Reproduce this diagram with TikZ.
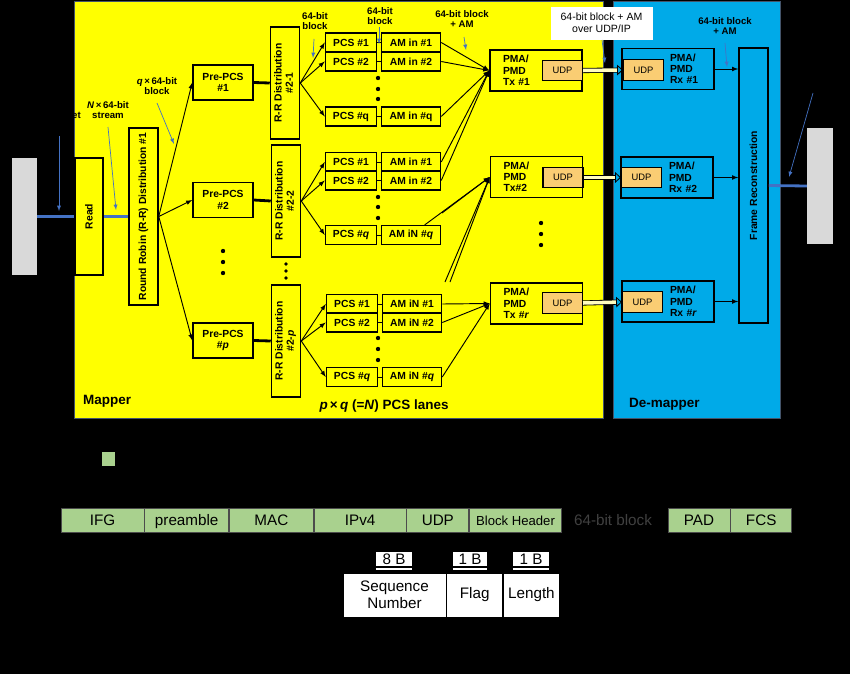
\documentclass[tikz,border=0pt]{standalone}
\usepackage{fontspec}
\setmainfont{Liberation Sans}
\usetikzlibrary{shapes,arrows,arrows.meta,positioning}
\definecolor{mapyellow}{RGB}{255,255,0}
\definecolor{demapblue}{RGB}{0,170,232}
\definecolor{annblue}{RGB}{68,114,196}
\definecolor{udporange}{RGB}{250,205,115}
\definecolor{fieldgreen}{RGB}{169,209,142}
\definecolor{hostgray}{RGB}{217,217,217}
\definecolor{edgegray}{RGB}{68,84,106}
\newcommand{\boxfont}{\fontsize{8.8}{9.6}\selectfont\bfseries}
\newcommand{\fieldfont}{\fontsize{13}{14.5}\selectfont}

\begin{document}
\begin{tikzpicture}[x=0.03cm, y=-0.03cm,
    box/.style={draw, rectangle, line width=1.3pt, inner sep=0pt, font=\boxfont},
    pcs/.style={box, minimum width=1.53cm, minimum height=0.56cm},
    am/.style={box, minimum width=1.77cm, minimum height=0.56cm},
    prepcs/.style={box, align=center, minimum width=1.8cm, minimum height=1.05cm},
    rrbox/.style={box, minimum width=0.87cm, minimum height=3.36cm},
    pma/.style={box, align=left, minimum width=2.76cm, minimum height=1.23cm, inner xsep=0.39cm, text width=1.98cm},
    pmarx/.style={pma, execute at begin node={\leftskip=1.05cm\relax}},
    udp/.style={draw, rectangle, fill=udporange, line width=0.9pt, inner sep=0pt, font=\fontsize{8}{9}\selectfont, minimum width=1.2cm, minimum height=0.62cm},
    note/.style={font=\fontsize{8.2}{9}\selectfont\bfseries, align=center, inner sep=0pt},
    annot/.style={draw=annblue, line width=0.6pt, -latex},
    lane/.style={line width=0.8pt, -latex},
    feed/.style={line width=2.4pt},
    link/.style={draw=annblue, line width=2.4pt},
    udplink/.style={line width=0.7pt, double=yellow!25, double distance=3pt, -{Triangle[open, length=5pt, width=9pt]}},
    dot/.style={circle, fill=black, inner sep=0pt, minimum size=0.13cm},
    field/.style={draw=black!70, fill=fieldgreen, line width=0.6pt, minimum height=0.72cm, inner sep=0pt, text height=9.3pt, text depth=0pt, font=\fieldfont},
    sizebox/.style={fill=white, minimum height=0.42cm, inner sep=0pt, text height=9.3pt, text depth=0pt, font=\fieldfont},
    hdrbox/.style={draw=black, fill=white, line width=0.6pt, minimum height=1.32cm, inner sep=0pt, align=center, font=\fieldfont}]

% background and the two halves
\fill[black] (0,0) rectangle (850,674);
\useasboundingbox (0,0) rectangle (850,674);
\filldraw[fill=mapyellow, draw=edgegray, line width=0.8pt] (74,1) rectangle (603,418);
\filldraw[fill=demapblue, draw=edgegray, line width=0.8pt] (613,1) rectangle (780,418);
\node[fill=hostgray, minimum width=0.75cm, minimum height=3.51cm, inner sep=0pt] (srchost) at (24.5,216.5) {};
\node[fill=hostgray, minimum width=0.78cm, minimum height=3.48cm, inner sep=0pt] (dsthost) at (820,186) {};

% mapper
\node[box, minimum width=0.84cm, minimum height=3.51cm] (read) at (89,216.5) {\rotatebox{90}{Read}};
\node[box, minimum width=0.87cm, minimum height=5.31cm] (rr1) at (143.5,216.5) {\rotatebox{90}{Round Robin (R-R) Distribution \#1}};
\node[prepcs] (pre1) at (223,82.5) {Pre-PCS\\\#1};
\node[prepcs] (pre2) at (223,200) {Pre-PCS\\\#2};
\node[prepcs] (prep) at (223,340.5) {Pre-PCS\\\#\textit{p}};
\node[dot] (pd1) at (223,251) {};
\node[dot] (pd2) at (223,262) {};
\node[dot] (pd3) at (223,273) {};

\node[rrbox] (rr21) at (285,83) {\rotatebox{90}{\begin{tabular}{@{}c@{}}R-R Distribution\\\#2-1\end{tabular}}};
\node[rrbox] (rr22) at (286,201) {\rotatebox{90}{\begin{tabular}{@{}c@{}}R-R Distribution\\\#2-2\end{tabular}}};
\node[rrbox] (rr2p) at (286,341) {\rotatebox{90}{\begin{tabular}{@{}c@{}}R-R Distribution\\\#2-\textit{p}\end{tabular}}};
\node[dot, minimum size=0.11cm] (rd1) at (286,264) {};
\node[dot, minimum size=0.11cm] (rd2) at (286,271) {};
\node[dot, minimum size=0.11cm] (rd3) at (286,278) {};

% PCS lanes
\node[pcs] (pcs11) at (351,42.5) {PCS \#1};
\node[pcs] (pcs12) at (351,61.5) {PCS \#2};
\node[pcs] (pcs1q) at (351,116.5) {PCS \#q};
\node[am] (am11) at (411,42.5) {AM in \#1};
\node[am] (am12) at (411,61.5) {AM in \#2};
\node[am] (am1q) at (411,116.5) {AM in \#q};
\node[pcs] (pcs21) at (351,162) {PCS \#1};
\node[pcs] (pcs22) at (351,180.5) {PCS \#2};
\node[pcs] (pcs2q) at (351,235) {PCS \#\textit{q}};
\node[am] (am21) at (411,162) {AM in \#1};
\node[am] (am22) at (411,180.5) {AM in \#2};
\node[am] (am2q) at (411,235) {AM iN \#\textit{q}};
\node[pcs] (pcs31) at (352,304) {PCS \#1};
\node[pcs] (pcs32) at (352,322.5) {PCS \#2};
\node[pcs] (pcs3q) at (352,377) {PCS \#\textit{q}};
\node[am] (am31) at (412,304) {AM iN \#1};
\node[am] (am32) at (412,322.5) {AM iN \#2};
\node[am] (am3q) at (412,377) {AM iN \#\textit{q}};
\foreach \y in {78,89,99,197,207,218,338,349,360}
  \node[dot] (ld\y) at (378,\y) {};

% transmitters
\node[pma] (tx1) at (536,70.5) {PMA/\\PMD\\Tx \#1};
\node[pma] (tx2) at (536.5,177) {PMA/\\PMD\\Tx\#2};
\node[pma] (txr) at (536.5,303.5) {PMA/\\PMD\\Tx \#\textit{r}};
\node[udp] (udptx1) at (562.5,70.5) {UDP};
\node[udp] (udptx2) at (563,177.5) {UDP};
\node[udp] (udptxr) at (562.5,303) {UDP};
\foreach \y in {223,234,245}
  \node[dot] (td\y) at (541,\y) {};

% de-mapper
\node[pmarx] (rx1) at (668,69) {PMA/\\PMD\\Rx \#1};
\node[pmarx] (rx2) at (667,177.5) {PMA/\\PMD\\Rx \#2};
\node[pmarx] (rxr) at (668,301.5) {PMA/\\PMD\\Rx \#\textit{r}};
\node[udp, anchor=west] (udprx1) at (623,70) {UDP};
\node[udp, anchor=west] (udprx2) at (621,177.5) {UDP};
\node[udp, anchor=west] (udprxr) at (622,302) {UDP};
\node[box, minimum width=0.87cm, minimum height=8.25cm] (frame) at (753.5,185.5) {\rotatebox{90}{Frame Reconstruction}};

% connections
\draw[link] (srchost.east |- read.west) -- (read.west);
\draw[link] (read.east) -- (rr1.west);
\draw[link] (frame.east) -- (dsthost.west);
\foreach \p in {pre1,pre2,prep}
  \draw[lane] (rr1.east) -- (\p.west);
\draw[feed] (pre1.east) -- (rr21.west);
\draw[feed] (pre2.east) -- (rr22.west);
\draw[feed] (prep.east) -- (rr2p.west);
\foreach \g/\r in {1/rr21,2/rr22,3/rr2p} {
  \foreach \k in {1,2,q} {
    \draw[lane] (\r.east) -- (pcs\g\k.west);
    \draw[line width=0.8pt] (pcs\g\k.east) -- (am\g\k.west);
  }
}
\foreach \s in {am11,am12,am1q,am21,am22}
  \draw[lane] (\s.east) -- (tx1.west);
\coordinate (fa) at (442,213);
\coordinate (fb) at (445,282);
\coordinate (fc) at (450,282);
\foreach \s in {am2q,fa,fb,fc}
  \draw[lane] (\s) -- (tx2.west);
\foreach \s in {am31,am32,am3q}
  \draw[lane] (\s.east) -- (txr.west);
\draw[udplink] (udptx1.east) -- (udprx1.west);
\draw[udplink] (udptx2.east) -- (udprx2.west);
\draw[udplink] (udptxr.east) -- (udprxr.west);
\draw[lane] (rx1.east) -- (rx1.east -| frame.west);
\draw[lane] (rx2.east) -- (rx2.east -| frame.west);
\draw[lane] (rxr.east) -- (rxr.east -| frame.west);

% labels and pointers
\node[note, anchor=east] (pkt) at (81,115) {et};
\node[note] (nstream) at (108,110) {\textit{N}\,×\,64-bit\\stream};
\node[note] (qblock) at (157,86) {\textit{q}\,×\,64-bit\\block};
\node[note] (blk1) at (315,21) {64-bit\\block};
\node[note] (blk2) at (380,16) {64-bit\\block};
\node[note] (blkam) at (462,19) {64-bit block\\+ AM};
\node[draw=white, fill=white, minimum width=3.03cm, minimum height=0.96cm, align=center, inner sep=0pt,
      font=\fontsize{9}{10.5}\selectfont] (udpip) at (601.5,23) {64-bit block + AM\\over UDP/IP};
\node[note] (blkam2) at (725,26) {64-bit block\\+ AM};
\coordinate (a1s) at (59,136);   \coordinate (a1e) at (59,211);
\coordinate (a2s) at (108,127);  \coordinate (a2e) at (116,210);
\coordinate (a3s) at (157,103);  \coordinate (a3e) at (174,144);
\coordinate (a4s) at (314,39);   \coordinate (a4e) at (313,58);
\coordinate (a5s) at (379,27);   \coordinate (a5e) at (379,44);
\coordinate (a6s) at (464,37);   \coordinate (a6e) at (466,50);
\coordinate (a7s) at (602,40);   \coordinate (a7e) at (605,63);
\coordinate (a8s) at (725,43);   \coordinate (a8e) at (727,67);
\coordinate (a9s) at (813,93);   \coordinate (a9e) at (789,177);
\foreach \i in {1,...,9}
  \draw[annot] (a\i s) -- (a\i e);
\node[font=\fontsize{11.5}{13}\selectfont\bfseries, anchor=west] (mapname) at (79,401) {Mapper};
\node[font=\fontsize{11.5}{13}\selectfont\bfseries, anchor=west] (demapname) at (625,404) {De-mapper};
\node[font=\fontsize{11.5}{13}\selectfont\bfseries] (lanes) at (384,406) {\textit{p}\,×\,\textit{q} (=\textit{N}) PCS lanes};

% frame format
\node[fill=fieldgreen, minimum size=0.4cm, inner sep=0pt] (legend) at (108.5,459) {};
\node[field, minimum width=2.49cm] (ifg) at (102.5,520) {IFG};
\node[field, minimum width=2.52cm, right=0pt of ifg] (pre) {preamble};
\node[field, minimum width=2.52cm, right=0pt of pre] (mac) {MAC};
\node[field, minimum width=2.76cm, right=0pt of mac] (ipv4) {IPv4};
\node[field, minimum width=1.86cm, right=0pt of ipv4] (udpf) {UDP};
\node[field, minimum width=2.76cm, right=0pt of udpf, font=\fontsize{11.2}{13}\selectfont] (bhdr) {Block Header};
\node[font=\fieldfont, text=black!75] (payload) at (613,520) {64-bit block};
\node[field, minimum width=1.86cm] (pad) at (699,520) {PAD};
\node[field, minimum width=1.83cm, right=0pt of pad] (fcs) {FCS};

\node[hdrbox, minimum width=3.09cm] (seq) at (394.5,595) {Sequence\\Number};
\node[hdrbox, minimum width=1.68cm, right=0pt of seq] (flag) {Flag};
\node[hdrbox, minimum width=1.68cm, right=0pt of flag] (len) {Length};
\node[sizebox, minimum width=1.08cm] (szseq) at (394,559) {8 B};
\node[sizebox, minimum width=1.02cm] (szflag) at (470,559) {1 B};
\node[sizebox, minimum width=1.08cm] (szlen) at (531,559) {1 B};
\foreach \b in {szseq,szflag,szlen}
  \draw[white, line width=1.6pt] ([yshift=-2.5pt]\b.south west) -- ([yshift=-2.5pt]\b.south east);
\end{tikzpicture}
\end{document}
